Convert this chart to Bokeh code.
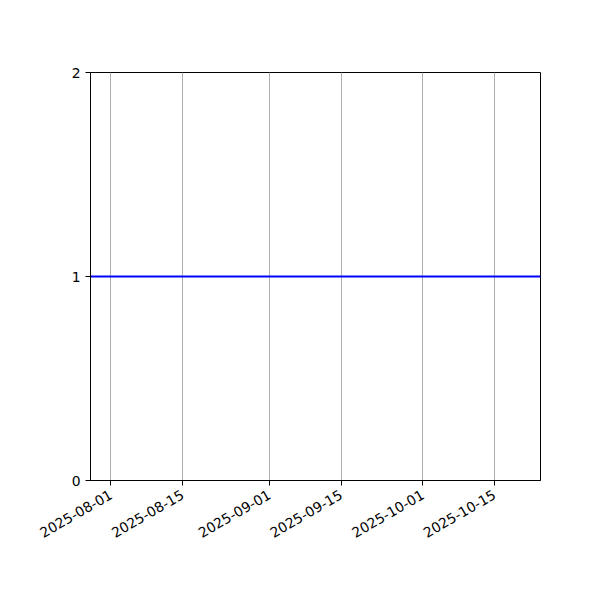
import math
from datetime import datetime

from bokeh.embed import file_html
from bokeh.models import DatetimeTickFormatter, FixedTicker, Range1d
from bokeh.plotting import figure
from bokeh.resources import INLINE

# Data
dates = ["2025-07-28", "2025-10-24"]
values = [1, 1]
x_tick_dates = ["2025-08-01", "2025-08-15", "2025-09-01",
                "2025-09-15", "2025-10-01", "2025-10-15"]
y_ticks = [0, 1, 2]


def to_ms(s):
    return datetime.strptime(s, "%Y-%m-%d").timestamp() * 1000.0


xs = [datetime.strptime(d, "%Y-%m-%d") for d in dates]

p = figure(
    width=592,
    height=592,
    x_axis_type="datetime",
    output_backend="svg",
    toolbar_location=None,
    x_range=Range1d(xs[0], xs[-1]),
    y_range=Range1d(0, 2),
    min_border_left=90,
    min_border_right=52,
    min_border_top=72,
    min_border_bottom=112,
)
p.background_fill_color = "white"
p.border_fill_color = "white"
p.outline_line_color = "black"
p.outline_line_width = 1
p.outline_line_alpha = 1

# Grid: vertical only
p.ygrid.grid_line_color = None
p.xgrid.grid_line_color = "#b0b0b0"
p.xgrid.grid_line_width = 1

# Axes
for ax in (p.xaxis[0], p.yaxis[0]):
    ax.axis_line_color = "black"
    ax.major_tick_line_color = "black"
    ax.major_tick_out = 5
    ax.major_tick_in = 0
    ax.minor_tick_line_color = None
    ax.major_label_text_font = "DejaVu Sans"
    ax.major_label_text_font_size = "13.9px"
    ax.major_label_text_color = "black"

p.xaxis.ticker = FixedTicker(ticks=[to_ms(d) for d in x_tick_dates])
p.xaxis.formatter = DatetimeTickFormatter(days="%Y-%m-%d", months="%Y-%m-%d",
                                          years="%Y-%m-%d")
p.xaxis.major_label_orientation = math.pi / 6
p.xaxis.major_label_standoff = 8
p.yaxis.ticker = FixedTicker(ticks=y_ticks)

p.line(xs, values, line_color="blue", line_width=2)

open("out.html", "w").write(file_html(p, INLINE))
